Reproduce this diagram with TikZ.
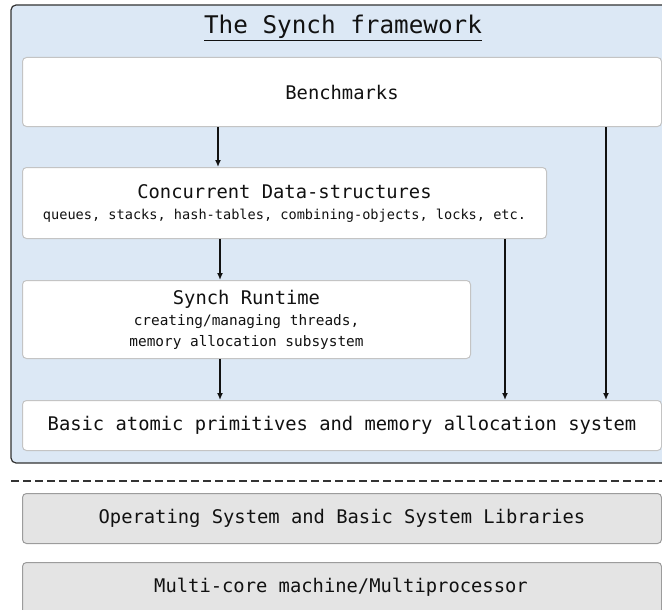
\documentclass[tikz,border=0pt]{standalone}
\usepackage{fontspec}
\setmainfont{DejaVu Sans Mono}
\usetikzlibrary{arrows.meta}

\definecolor{frameblue}{HTML}{DCE8F5}
\definecolor{frameline}{HTML}{333333}
\definecolor{boxline}{HTML}{C4C4C4}
\definecolor{osgray}{HTML}{E4E4E4}
\definecolor{osline}{HTML}{9C9C9C}
\definecolor{ink}{HTML}{111111}

\newcommand{\bigtext}{\fontsize{18.8}{21}\selectfont}
\newcommand{\smalltext}{\fontsize{13.6}{21}\selectfont}
\newcommand{\midtext}{\fontsize{14.4}{21}\selectfont}
\newcommand{\titletext}{\fontsize{24.3}{28}\selectfont}

\tikzset{
    layer/.style={draw=boxline, fill=white, rounded corners=4pt, anchor=north west,
        inner sep=0pt, align=center, text=ink, font=\bigtext, line width=1pt},
    oslayer/.style={layer, draw=osline, fill=osgray},
    arr/.style={-{Latex[length=7pt,width=6pt]}, line width=1.4pt, draw=ink}
}

\begin{document}
\begin{tikzpicture}[x=1pt, y=-1pt]
    \useasboundingbox (0,0) rectangle (662,610);
    \clip (0,0) rectangle (662,610);
    \filldraw[fill=frameblue, draw=frameline, line width=1.2pt, rounded corners=5pt] (11,5) rectangle (690,463);
    \node[text=ink, font=\titletext] (title) at (343,28) {\underline{The Synch framework}};
    \node[layer, minimum width=639pt, minimum height=69pt] (bench) at (22,57) {Benchmarks};
    \node[layer, minimum width=524pt, minimum height=71pt] (conc) at (22,167)
        {Concurrent Data-structures\\{\smalltext queues, stacks, hash-tables, combining-objects, locks, etc.}};
    \node[layer, minimum width=448pt, minimum height=78pt] (run) at (22,280)
        {Synch Runtime\\{\midtext creating/managing threads,}\\{\midtext memory allocation subsystem}};
    \node[layer, minimum width=639pt, minimum height=50pt] (basic) at (22,400)
        {Basic atomic primitives and memory allocation system};
    \foreach \a/\b/\s in {bench/conc/196pt, conc/run/198pt, run/basic/198pt, conc/basic/483pt, bench/basic/584pt} {
        \draw[arr] ([xshift=\s]\a.south west) -- ([xshift=\s]\b.north west);
    }
    \coordinate (cutl) at (11,481);
    \coordinate (cutr) at (662,481);
    \draw[frameline, line width=1.4pt, dash pattern=on 8pt off 4pt] (cutl) -- (cutr);
    \node[oslayer, minimum width=639pt, minimum height=50pt] (os) at (22,493)
        {Operating System and Basic System Libraries};
    \node[oslayer, minimum width=639pt, minimum height=60pt] (cpu) at (22,562)
        {};
    \node[text=ink, font=\bigtext] (cpulabel) at (341,587) {Multi-core machine/Multiprocessor};
\end{tikzpicture}
\end{document}
